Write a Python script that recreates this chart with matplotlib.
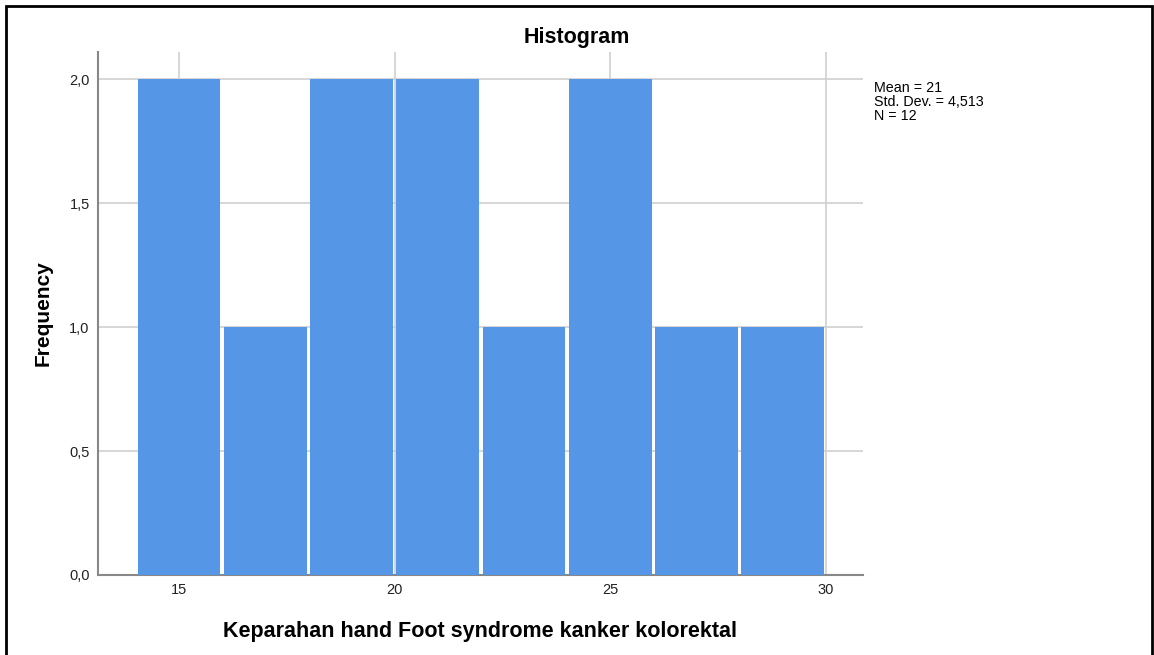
import numpy as np
import matplotlib
matplotlib.use("Agg")
import matplotlib.pyplot as plt
from matplotlib.patches import Rectangle

# bin edges and frequencies
bin_edges = [14, 16, 18, 20, 22, 24, 26, 28, 30]
freqs = [2, 1, 2, 2, 1, 2, 1, 1]
x_ticks = [15, 20, 25, 30]
y_ticks = [0.0, 0.5, 1.0, 1.5, 2.0]
stats_lines = ["Mean = 21", "Std. Dev. = 4,513", "N = 12"]

plt.rcParams['font.family'] = ['Liberation Sans', 'DejaVu Sans']

fig = plt.figure(figsize=(11.54, 6.55), dpi=100)
ax = fig.add_axes([98/1154, 1 - 575/655, (863-98)/1154, (575-52)/655])

edges = np.array(bin_edges, dtype=float)
widths = np.diff(edges)
gap = 0.08  # white gap between bars, in data units
ax.bar(edges[:-1] + gap / 2, freqs, width=widths - gap, align='edge',
       color='#5596E6', linewidth=0, zorder=3)

ax.set_xlim(13.12, 30.86)
ax.set_ylim(0, 2.109)
ax.set_xticks(x_ticks)
ax.set_yticks(y_ticks)
ax.set_yticklabels([f"{v:.1f}".replace('.', ',') for v in y_ticks])
ax.tick_params(length=0, labelsize=10.5, colors='#222222', pad=6)
ax.grid(True, color='#cfcfcf', linewidth=1.2, zorder=0)
ax.set_axisbelow(True)

for s in ['top', 'right']:
    ax.spines[s].set_visible(False)
for s in ['left', 'bottom']:
    ax.spines[s].set_color('#888888')
    ax.spines[s].set_linewidth(1.5)

ax.set_xlabel("Keparahan hand Foot syndrome kanker kolorektal",
              fontsize=15.5, fontweight='bold', labelpad=17)
ax.set_ylabel("Frequency", fontsize=15, fontweight='bold', labelpad=12)

fig.text(0.5, 1 - 37/655, "Histogram", ha='center', va='center',
         fontsize=15.5, fontweight='bold')

fig.text(874/1154, 1 - 81/655, "\n".join(stats_lines), ha='left', va='top',
         fontsize=10.3, linespacing=0.98)

# outer black frame
fig.patches.append(Rectangle((6/1154, -0.05), (1152-6)/1154, 1.05 - 6/655,
                             transform=fig.transFigure, fill=False,
                             edgecolor='black', linewidth=2))

fig.savefig("out.png", dpi=100)
